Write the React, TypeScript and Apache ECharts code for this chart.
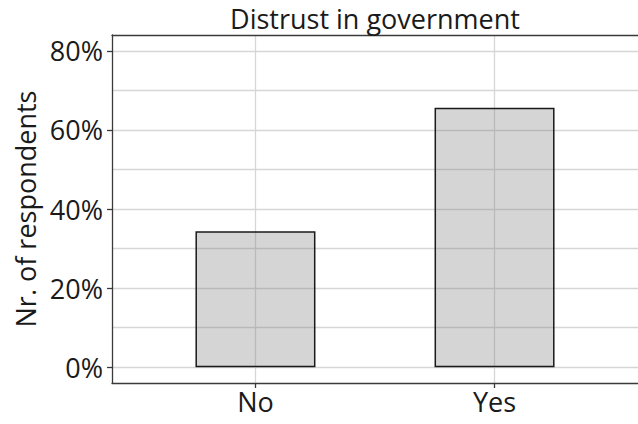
import React, { useEffect, useRef } from "react";
import * as echarts from "echarts";

const categories = ["No", "Yes"];
const positions = [1, 2];
const shares = [34.4, 65.6];
const majorTicks = [0, 20, 40, 60, 80];
const minorTicks = [10, 30, 50, 70];
const titleText = "Distrust in government";
const yName = "Nr. of respondents";

export default function App() {
  const ref = useRef<HTMLDivElement>(null);
  useEffect(() => {
    const chart = echarts.init(ref.current as HTMLDivElement, null, { renderer: "svg" });
    const font = "Open Sans";
    const textColor = "#1a1a1a";
    const gridColor = "#d6d6d6";
    const frame = { color: "#3a3a3a", width: 1.3 };
    chart.setOption({
      animation: false,
      backgroundColor: "#ffffff",
      title: {
        text: titleText,
        left: 375,
        textAlign: "center",
        top: 4,
        padding: 0,
        textStyle: { fontFamily: font, fontSize: 27, lineHeight: 28, fontWeight: "normal", color: textColor },
      },
      grid: {
        left: 112,
        right: 0,
        top: 35,
        bottom: 41,
        show: false,
      },
      xAxis: [
        {
          type: "value",
          min: 0.4,
          max: 2.6,
          position: "bottom",
          axisLine: { show: true, onZero: false, lineStyle: frame },
          axisTick: {
            show: true,
            customValues: positions,
            length: 5,
            lineStyle: frame,
          },
          axisLabel: {
            customValues: positions,
            formatter: (v: number) => categories[positions.indexOf(v)] ?? "",
            margin: 5,
            fontFamily: font,
            fontSize: 27,
            color: textColor,
          },
          splitLine: { show: true, lineStyle: { color: gridColor, width: 1.3 } },
        },
        {
          type: "value",
          min: 0.4,
          max: 2.6,
          position: "top",
          axisLine: { show: true, onZero: false, lineStyle: frame },
          axisTick: { show: false },
          axisLabel: { show: false },
          splitLine: { show: false },
        },
      ],
      yAxis: [
        {
          type: "value",
          min: -4,
          max: 84,
          position: "left",
          name: yName,
          nameLocation: "middle",
          nameGap: 66,
          nameTextStyle: { fontFamily: font, fontSize: 27, color: textColor },
          axisLine: { show: true, onZero: false, lineStyle: frame },
          axisTick: {
            show: true,
            customValues: majorTicks,
            length: 5,
            lineStyle: frame,
          },
          axisLabel: {
            customValues: majorTicks,
            formatter: (v: number) => `${v}%`,
            margin: 9,
            fontFamily: font,
            fontSize: 27,
            color: textColor,
          },
          splitLine: { show: true, lineStyle: { color: gridColor, width: 1.3 } },
        },
        {
          type: "value",
          min: -4,
          max: 84,
          position: "left",
          axisLine: { show: false },
          axisTick: { show: false, customValues: minorTicks },
          axisLabel: { show: false, customValues: minorTicks },
          splitLine: { show: true, lineStyle: { color: gridColor, width: 1.3 } },
        },
      ],
      series: [
        {
          type: "bar",
          xAxisIndex: 0,
          yAxisIndex: 0,
          data: positions.map((p, i) => [p, shares[i]]),
          barWidth: 120,
          itemStyle: {
            color: "rgba(128,128,128,0.33)",
            borderColor: "#1a1a1a",
            borderWidth: 1.5,
          },
        },
      ],
    });
    return () => chart.dispose();
  }, []);
  return (
    <div
      ref={ref}
      style={{ position: "fixed", left: 0, top: 0, width: 638, height: 424, background: "#fff" }}
    />
  );
}
